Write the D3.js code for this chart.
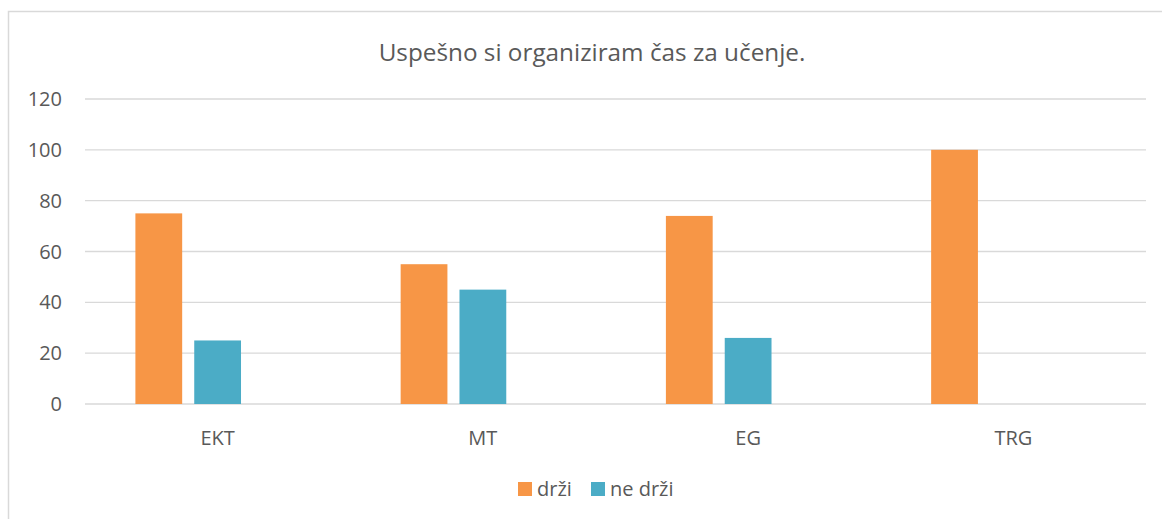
<html>
<head>
  <meta charset="utf-8">
  <title>Uspešno si organiziram čas za učenje.</title>
  <style>
    body { margin: 0; background: #fff; }
    text { font-family: "Open Sans", sans-serif; fill: #595959; }
  </style>
  <script src="https://d3js.org/d3.v7.min.js"></script>
</head>
<body>
  <div id="container"></div>
  <script>
    // data
    const categories = ["EKT", "MT", "EG", "TRG"];
    const seriesNames = ["drži", "ne drži"];
    const drzi = [75, 55, 74, 100];
    const neDrzi = [25, 45, 26, 0];
    const yTicks = [0, 20, 40, 60, 80, 100, 120];
    const title = "Uspešno si organiziram čas za učenje.";

    const colors = ["#F79646", "#4BACC6"];
    const width = 1162, height = 519;
    const margin = { top: 99, right: 16, bottom: 115, left: 85 };

    const svg = d3.select("#container").append("svg")
      .attr("width", width)
      .attr("height", height);

    // chart frame (runs off the right and bottom of the picture)
    svg.append("rect")
      .attr("x", 8.5).attr("y", 11.5)
      .attr("width", width + 10).attr("height", height + 10)
      .style("fill", "none")
      .style("stroke", "#D9D9D9")
      .style("stroke-width", 1.5);

    const x0 = d3.scaleBand()
      .domain(categories)
      .range([margin.left, width - margin.right]);

    // excel leaves room for a third (empty) series slot in every cluster
    const x1 = d3.scaleBand()
      .domain([0, 1, 2])
      .range([x0.bandwidth() * 0.19, x0.bandwidth() * 0.81])
      .paddingInner(0.205);

    const y = d3.scaleLinear()
      .domain([0, 120])
      .range([404, 99]);

    // gridlines
    svg.append("g")
      .selectAll("line")
      .data(yTicks)
      .join("line")
      .attr("x1", margin.left)
      .attr("x2", width - margin.right)
      .attr("y1", d => y(d))
      .attr("y2", d => y(d))
      .style("stroke", "#D9D9D9")
      .style("stroke-width", 1.3);

    // y axis labels
    svg.append("g")
      .selectAll("text")
      .data(yTicks)
      .join("text")
      .attr("x", 62)
      .attr("y", d => y(d))
      .attr("dy", "0.35em")
      .attr("text-anchor", "end")
      .attr("font-size", 20)
      .text(d => d);

    // bars
    const series = [drzi, neDrzi];
    series.forEach((vals, s) => {
      svg.append("g")
        .selectAll("rect")
        .data(vals)
        .join("rect")
        .attr("x", (d, i) => x0(categories[i]) + x1(s))
        .attr("y", d => y(d))
        .attr("width", x1.bandwidth())
        .attr("height", d => y(0) - y(d))
        .style("fill", colors[s]);
    });

    // category labels
    svg.append("g")
      .selectAll("text")
      .data(categories)
      .join("text")
      .attr("x", d => x0(d) + x0.bandwidth() / 2)
      .attr("y", 438)
      .attr("dy", "0.35em")
      .attr("text-anchor", "middle")
      .attr("font-size", 20)
      .text(d => d);

    // title
    svg.append("text")
      .attr("x", 592)
      .attr("y", 52)
      .attr("dy", "0.35em")
      .attr("text-anchor", "middle")
      .attr("font-size", 24.3)
      .text(title);

    // legend
    const legend = svg.append("g");
    const legendX = [518, 591];
    seriesNames.forEach((name, i) => {
      legend.append("rect")
        .attr("x", legendX[i]).attr("y", 482)
        .attr("width", 14).attr("height", 14)
        .style("fill", colors[i]);
      legend.append("text")
        .attr("x", legendX[i] + 19)
        .attr("y", 489)
        .attr("dy", "0.35em")
        .attr("font-size", 20)
        .text(name);
    });
  </script>
</body>
</html>
